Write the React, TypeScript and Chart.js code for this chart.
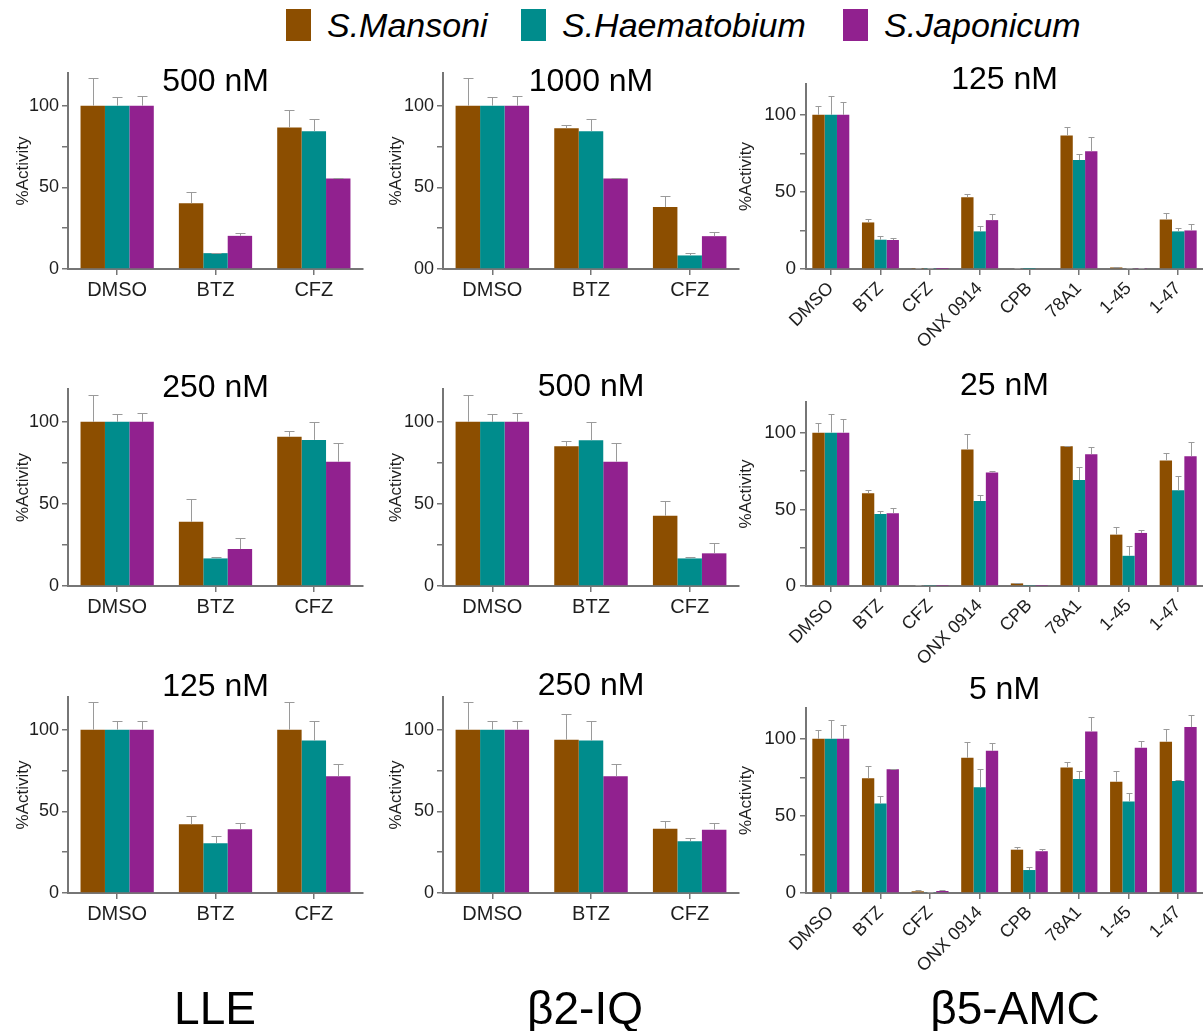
import React, { useEffect, useRef } from 'react';
import { Chart, registerables } from 'chart.js';

Chart.register(...registerables);

const FONT = "'Liberation Sans', Arial, Helvetica, sans-serif";

// ---------- DATA ----------
const speciesNames = ['S.Mansoni', 'S.Haematobium', 'S.Japonicum'];
const speciesColors = ['#8C4E00', '#008C8C', '#91218F'];

const threeDrugCats = ['DMSO', 'BTZ', 'CFZ'];
const eightDrugCats = ['DMSO', 'BTZ', 'CFZ', 'ONX 0914', 'CPB', '78A1', '1-45', '1-47'];

const yTickValues = [0, 50, 100];
const columnLabels = ['LLE', 'β2-IQ', 'β5-AMC'];

// LLE 500 nM
const lle500Mansoni = [100, 40.2, 86.6];
const lle500MansoniErr = [17, 6.7, 10.8];
const lle500Haemat = [100, 9.7, 84.4];
const lle500HaematErr = [5.3, 0.4, 7.3];
const lle500Japon = [100, 20.3, 55.4];
const lle500JaponErr = [6, 2, 0.6];

// β2-IQ 1000 nM
const b2_1000Mansoni = [100, 86.2, 37.9];
const b2_1000MansoniErr = [17, 2, 6.5];
const b2_1000Haemat = [100, 84.4, 8.3];
const b2_1000HaematErr = [5.3, 7.3, 1.8];
const b2_1000Japon = [100, 55.4, 20.1];
const b2_1000JaponErr = [6, 0.6, 2.4];

// LLE 250 nM
const lle250Mansoni = [100, 39.1, 90.9];
const lle250MansoniErr = [16.6, 13.6, 3.4];
const lle250Haemat = [100, 16.8, 89];
const lle250HaematErr = [5, 1, 11];
const lle250Japon = [100, 22.5, 75.7];
const lle250JaponErr = [5.5, 6.9, 11.7];

// β2-IQ 500 nM
const b2_500Mansoni = [100, 85.2, 42.8];
const b2_500MansoniErr = [16.6, 3.2, 8.7];
const b2_500Haemat = [100, 88.8, 16.8];
const b2_500HaematErr = [5, 11.2, 1];
const b2_500Japon = [100, 75.7, 19.9];
const b2_500JaponErr = [5.5, 11.7, 6.5];

// LLE 125 nM
const lle125Mansoni = [100, 42.1, 100];
const lle125MansoniErr = [16.9, 5.3, 16.9];
const lle125Haemat = [100, 30.5, 93.3];
const lle125HaematErr = [5.1, 4.3, 12.2];
const lle125Japon = [100, 39, 71.5];
const lle125JaponErr = [5.5, 4.1, 7.4];

// β2-IQ 250 nM
const b2_250Mansoni = [100, 93.9, 39.4];
const b2_250MansoniErr = [16.9, 15.9, 4.9];
const b2_250Haemat = [100, 93.3, 31.7];
const b2_250HaematErr = [5.1, 12.2, 2];
const b2_250Japon = [100, 71.5, 38.8];
const b2_250JaponErr = [5.5, 7.4, 4.2];

// β5-AMC 125 nM
const b5_125Mansoni = [100, 30.2, 0.3, 46.6, 0.5, 86.6, 1, 32.1];
const b5_125MansoniErr = [5.6, 2.3, 0.2, 2.1, 0.2, 5.4, 0.5, 4.5];
const b5_125Haemat = [100, 19, 0.3, 24.4, 0.2, 70.7, 0.5, 24.4];
const b5_125HaematErr = [11.9, 2.1, 0.2, 3.6, 0, 3.9, 0.2, 2.1];
const b5_125Japon = [100, 18.8, 0.1, 31.7, 0, 76.3, 0.3, 25];
const b5_125JaponErr = [8.6, 1.5, 0, 4.3, 0, 9.3, 0.1, 3.9];

// β5-AMC 25 nM
const b5_25Mansoni = [100, 60.5, 0.5, 89, 1.7, 91.1, 33.5, 81.9];
const b5_25MansoniErr = [6, 2.4, 0.2, 10.1, 0.5, 0.2, 4.7, 4.7];
const b5_25Haemat = [100, 46.9, 0.3, 55.5, 0.3, 69.1, 19.7, 62.4];
const b5_25HaematErr = [12.1, 2.1, 0, 3.9, 0, 8.4, 6.4, 9.1];
const b5_25Japon = [100, 47.5, 0.2, 74.1, 0.2, 86, 34.6, 84.7];
const b5_25JaponErr = [8.6, 3.5, 0, 0.8, 0, 4.7, 1.7, 9.5];

// β5-AMC 5 nM
const b5_5Mansoni = [100, 74.5, 1.1, 87.7, 28.1, 81.4, 72.1, 98.1];
const b5_5MansoniErr = [5.8, 7.8, 0.6, 10.4, 1.6, 3.4, 6.9, 8];
const b5_5Haemat = [100, 58, 0.4, 68.6, 14.9, 74, 59.3, 72.7];
const b5_5HaematErr = [12.1, 4.8, 0.1, 11.7, 1.8, 5.4, 5.6, 0.9];
const b5_5Japon = [100, 80.3, 1.3, 92.2, 27.1, 104.8, 94.2, 107.6];
const b5_5JaponErr = [8.9, 0.2, 0.9, 5, 1.7, 9.3, 4.1, 7.8];

// ---------- LAYOUT (positions / styles) ----------
type Col = { cx: number; cw: number; left: number; right: number; yTitleCenter: number; xFont: number; yFont: number; cap: number; rotate: number; tickPad: number };
type Row = { cy: number; ch: number; bottom: number; top12: number; top3: number };

const cols: Col[] = [
  { cx: 0, cw: 372, left: 68, right: 363, yTitleCenter: 23, xFont: 20, yFont: 18, cap: 5, rotate: 0, tickPad: 3 },
  { cx: 372, cw: 373, left: 443, right: 739, yTitleCenter: 396, xFont: 20, yFont: 18, cap: 5, rotate: 0, tickPad: 3 },
  { cx: 730, cw: 473, left: 806, right: 1203, yTitleCenter: 746, xFont: 18, yFont: 19, cap: 3, rotate: 45, tickPad: 4 },
];
const rows: Row[] = [
  { cy: 50, ch: 315, bottom: 269, top12: 73, top3: 84 },
  { cy: 355, ch: 317, bottom: 586, top12: 389, top3: 402 },
  { cy: 660, ch: 325, bottom: 893, top12: 697, top3: 708 },
];

type PanelDef = {
  title: string;
  titleY: number;
  row: number;
  col: number;
  cats: string[];
  values: number[][];
  errors: number[][];
  zeroLabel?: string;
};

const panels: PanelDef[] = [
  { title: '500 nM', titleY: 82, row: 0, col: 0, cats: threeDrugCats,
    values: [lle500Mansoni, lle500Haemat, lle500Japon], errors: [lle500MansoniErr, lle500HaematErr, lle500JaponErr] },
  { title: '1000 nM', titleY: 82, row: 0, col: 1, cats: threeDrugCats, zeroLabel: '00',
    values: [b2_1000Mansoni, b2_1000Haemat, b2_1000Japon], errors: [b2_1000MansoniErr, b2_1000HaematErr, b2_1000JaponErr] },
  { title: '125 nM', titleY: 80, row: 0, col: 2, cats: eightDrugCats,
    values: [b5_125Mansoni, b5_125Haemat, b5_125Japon], errors: [b5_125MansoniErr, b5_125HaematErr, b5_125JaponErr] },
  { title: '250 nM', titleY: 388, row: 1, col: 0, cats: threeDrugCats,
    values: [lle250Mansoni, lle250Haemat, lle250Japon], errors: [lle250MansoniErr, lle250HaematErr, lle250JaponErr] },
  { title: '500 nM', titleY: 387, row: 1, col: 1, cats: threeDrugCats,
    values: [b2_500Mansoni, b2_500Haemat, b2_500Japon], errors: [b2_500MansoniErr, b2_500HaematErr, b2_500JaponErr] },
  { title: '25 nM', titleY: 386, row: 1, col: 2, cats: eightDrugCats,
    values: [b5_25Mansoni, b5_25Haemat, b5_25Japon], errors: [b5_25MansoniErr, b5_25HaematErr, b5_25JaponErr] },
  { title: '125 nM', titleY: 687, row: 2, col: 0, cats: threeDrugCats,
    values: [lle125Mansoni, lle125Haemat, lle125Japon], errors: [lle125MansoniErr, lle125HaematErr, lle125JaponErr] },
  { title: '250 nM', titleY: 686, row: 2, col: 1, cats: threeDrugCats,
    values: [b2_250Mansoni, b2_250Haemat, b2_250Japon], errors: [b2_250MansoniErr, b2_250HaematErr, b2_250JaponErr] },
  { title: '5 nM', titleY: 690, row: 2, col: 2, cats: eightDrugCats,
    values: [b5_5Mansoni, b5_5Haemat, b5_5Japon], errors: [b5_5MansoniErr, b5_5HaematErr, b5_5JaponErr] },
];

const AXIS_COLOR = '#767676';
const TEXT_COLOR = '#1e1e1e';
const ERR_COLOR = '#9a9a9a';

function PanelChart({ p }: { p: PanelDef }) {
  const ref = useRef<HTMLCanvasElement | null>(null);
  const col = cols[p.col];
  const row = rows[p.row];
  const top = p.col === 2 ? row.top3 : row.top12;

  useEffect(() => {
    if (!ref.current) return;
    const yTitleFont = 17;
    const yTitlePad = col.yTitleCenter - col.cx - (yTitleFont * 1.2) / 2;

    const titlePlugin = {
      id: 'panelTitle',
      afterDraw(chart: any) {
        const { ctx, chartArea } = chart;
        ctx.save();
        ctx.font = `32px ${FONT}`;
        ctx.fillStyle = '#000';
        ctx.textAlign = 'center';
        ctx.textBaseline = 'middle';
        ctx.fillText(p.title, (chartArea.left + chartArea.right) / 2, p.titleY - row.cy);
        ctx.restore();
      },
    };

    const errorPlugin = {
      id: 'errorBars',
      afterDatasetsDraw(chart: any) {
        const { ctx } = chart;
        const yScale = chart.scales.y;
        ctx.save();
        ctx.strokeStyle = ERR_COLOR;
        ctx.lineWidth = 1;
        chart.data.datasets.forEach((ds: any, i: number) => {
          const meta = chart.getDatasetMeta(i);
          meta.data.forEach((el: any, j: number) => {
            const v = ds.data[j];
            const e = ds.errors[j];
            if (!e || e <= 0) return;
            const x = Math.round(el.x) + 0.5;
            const y0 = yScale.getPixelForValue(v);
            const y1 = Math.round(yScale.getPixelForValue(v + e)) + 0.5;
            ctx.beginPath();
            ctx.moveTo(x, y0);
            ctx.lineTo(x, y1);
            ctx.moveTo(x - col.cap, y1);
            ctx.lineTo(x + col.cap, y1);
            ctx.stroke();
          });
        });
        ctx.restore();
      },
    };

    const chart = new Chart(ref.current, {
      type: 'bar',
      data: {
        labels: p.cats,
        datasets: p.values.map((vals, i) => ({
          label: speciesNames[i],
          data: vals,
          errors: p.errors[i],
          backgroundColor: speciesColors[i],
          borderWidth: 0,
          categoryPercentage: 0.745,
          barPercentage: 1.0,
        })) as any,
      },
      options: {
        responsive: false,
        animation: false,
        events: [],
        layout: {
          padding: {
            top: top - row.cy,
            right: col.cx + col.cw - col.right,
            left: 0,
            bottom: 0,
          },
        },
        plugins: {
          legend: { display: false },
          title: { display: false },
          tooltip: { enabled: false },
        },
        scales: {
          x: {
            type: 'category',
            offset: true,
            afterFit(scale: any) {
              scale.height = row.cy + row.ch - row.bottom;
            },
            grid: {
              offset: false,
              drawOnChartArea: false,
              drawTicks: true,
              tickLength: 6,
              color: AXIS_COLOR,
              lineWidth: 1.5,
            },
            border: { display: true, color: AXIS_COLOR, width: 2 },
            ticks: {
              autoSkip: false,
              maxRotation: col.rotate,
              minRotation: col.rotate,
              color: TEXT_COLOR,
              padding: 3,
              font: { family: FONT, size: col.xFont },
            },
          },
          y: {
            type: 'linear',
            min: 0,
            max: 120,
            afterFit(scale: any) {
              scale.width = col.left - col.cx;
            },
            afterBuildTicks(scale: any) {
              scale.ticks = [0, 25, 50, 75, 100].map((v) => ({ value: v }));
            },
            grid: {
              drawOnChartArea: false,
              drawTicks: true,
              tickLength: 6,
              color: AXIS_COLOR,
              lineWidth: 1.5,
            },
            border: { display: true, color: AXIS_COLOR, width: 2 },
            ticks: {
              includeBounds: false,
              autoSkip: false,
              color: TEXT_COLOR,
              padding: col.tickPad,
              font: { family: FONT, size: col.yFont },
              callback: (v: any) => {
                const n = Number(v);
                if (!yTickValues.includes(n)) return '';
                if (n === 0 && p.zeroLabel) return p.zeroLabel;
                return String(n);
              },
            },
            title: {
              display: true,
              text: '%Activity',
              color: TEXT_COLOR,
              font: { family: FONT, size: yTitleFont },
              padding: { top: yTitlePad, bottom: 0 },
            },
          },
        },
      },
      plugins: [errorPlugin, titlePlugin],
    } as any);
    return () => chart.destroy();
  }, []);

  return (
    <canvas
      ref={ref}
      width={col.cw}
      height={row.ch}
      style={{ position: 'absolute', left: col.cx, top: row.cy, width: col.cw, height: row.ch }}
    />
  );
}

const legendSquareX = [286, 521, 843];
const legendTextX = [327, 562, 884];
const columnLabelCenters = [215, 585, 1015];

export default function App() {
  return (
    <div style={{ position: 'absolute', left: 0, top: 0, width: 1203, height: 1031, background: '#fff', overflow: 'hidden', fontFamily: FONT }}>
      {/* Legend */}
      {speciesNames.map((name, i) => (
        <React.Fragment key={name}>
          <div style={{ position: 'absolute', left: legendSquareX[i], top: 9, width: 25, height: 32, background: speciesColors[i] }} />
          <div
            style={{
              position: 'absolute',
              left: legendTextX[i],
              top: 9,
              height: 32,
              fontSize: 34,
              lineHeight: '32px',
              fontStyle: 'italic',
              color: '#000',
              whiteSpace: 'nowrap',
            }}
          >
            {name}
          </div>
        </React.Fragment>
      ))}
      {panels.map((p, i) => (
        <PanelChart key={i} p={p} />
      ))}
      {columnLabels.map((t, i) => (
        <div
          key={t}
          style={{
            position: 'absolute',
            left: columnLabelCenters[i],
            top: 985,
            transform: 'translateX(-50%)',
            fontSize: 46,
            lineHeight: '46px',
            color: '#000',
            whiteSpace: 'nowrap',
          }}
        >
          {t}
        </div>
      ))}
    </div>
  );
}
